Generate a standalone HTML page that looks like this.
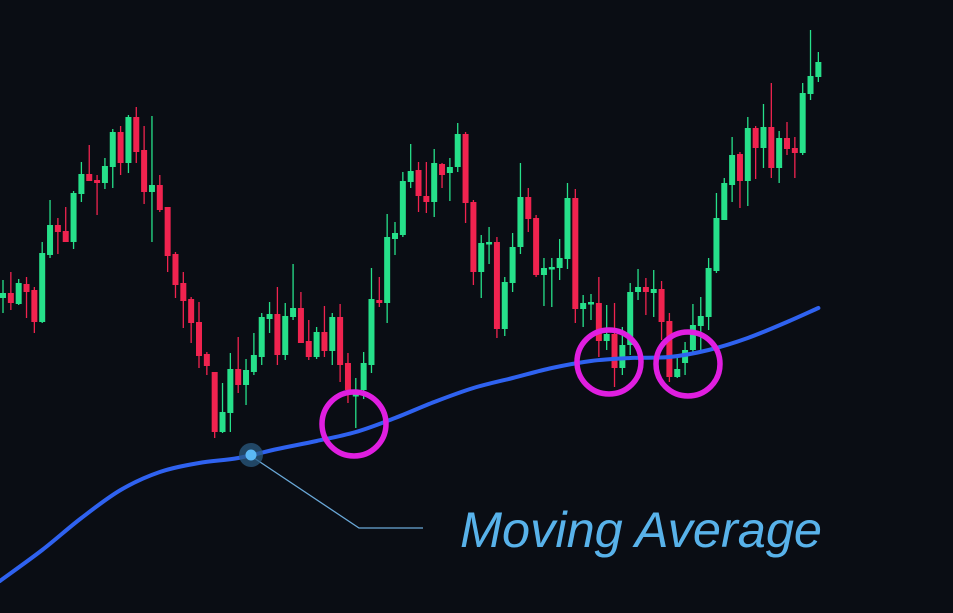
<!DOCTYPE html>
<html><head><meta charset="utf-8"><style>
html,body{margin:0;padding:0;background:#0a0d14;}
svg{display:block;}
</style></head><body>
<svg id="chart" width="953" height="613" viewBox="0 0 953 613" xmlns="http://www.w3.org/2000/svg">
<rect x="0" y="0" width="953" height="613" fill="#0a0d14"/>
<g id="candles"></g>
<path id="ma" fill="none" stroke="#2f62f0" stroke-width="4" stroke-linecap="round" stroke-linejoin="round"/>
<g fill="none" stroke="#e01ee0" stroke-width="5.5">
<circle cx="354" cy="424" r="32"/>
<circle cx="609" cy="362" r="32"/>
<circle cx="688" cy="364" r="32"/>
</g>
<polyline points="251,456 359,528 423,528" fill="none" stroke="#6aa8d8" stroke-width="1.3"/>
<circle cx="251" cy="455" r="12" fill="#2a5a80" opacity="0.75"/>
<circle cx="251" cy="455" r="5.5" fill="#5ab8f5"/>
<text x="460" y="547" font-family="Liberation Sans, sans-serif" font-style="italic" font-size="50" fill="#58b2ea" textLength="362" lengthAdjust="spacingAndGlyphs">Moving Average</text>
</svg>
<script>
const opens=[302,307,296,316,310,278,345,375,369,358,406,426,420,417,433,468,437,483,450,408,415,393,346,317,301,278,246,228,168,187,231,215,228,243,281,286,245,283,292,259,243,268,249,283,237,204,210,235,300,297,361,365,418,430,404,398,436,427,433,466,398,328,356,358,271,317,353,403,382,325,331,332,341,402,291,296,297,259,266,232,255,308,313,307,311,279,223,237,250,274,283,329,380,415,446,419,472,452,473,432,462,452,447,506,523];
const highs=[320,328,321,323,313,358,400,382,393,409,438,455,425,442,471,474,485,493,474,484,425,393,348,328,303,298,248,228,217,247,263,241,267,287,298,313,297,336,308,280,273,294,287,296,247,222,248,332,323,386,378,428,456,438,438,451,437,442,477,468,400,365,373,363,323,367,437,412,385,342,342,361,417,411,305,306,323,295,297,273,317,331,322,330,319,287,242,258,296,303,342,407,422,463,448,483,474,496,517,469,478,463,517,570,548];
const lows=[287,290,295,282,267,277,342,346,358,351,398,419,385,411,412,425,427,437,396,358,388,328,302,272,257,232,225,162,167,168,207,195,225,235,267,235,240,280,257,240,241,243,235,218,197,172,201,227,293,277,345,363,412,388,387,383,412,399,428,377,315,302,336,262,264,308,346,368,323,294,293,320,331,277,273,280,243,250,213,225,245,300,285,283,260,218,222,225,248,250,270,327,380,398,392,394,421,432,422,417,445,422,445,500,518];
const closes=[307,297,317,308,278,347,375,368,358,407,426,419,417,434,468,437,483,448,408,415,390,344,315,299,277,244,234,168,188,231,215,230,245,283,286,245,284,292,257,243,268,249,283,235,210,206,237,301,297,363,367,419,429,404,398,437,425,433,466,397,328,357,358,271,318,353,403,381,325,332,333,342,402,291,297,298,259,266,232,255,308,313,308,311,278,223,231,250,275,284,332,382,417,445,419,472,452,473,432,462,451,447,507,524,538];
const maIndex=[-0.4,5,10,15,20,25,30,35,40,45,50,55,60,65,70,75,80,85,90,95,100,104];
const maValues=[19,50,82,110,128,137,142,151,159,168,182,198,212,222,232,239,242,243,250,262,278,292];

const NS='http://www.w3.org/2000/svg';
const xScale=i=>3+i*7.84;
const yScale=p=>600-p;
const g=document.getElementById('candles');
for(let i=0;i<opens.length;i++){
  const up=closes[i]>=opens[i];
  const col=up?'#26e08a':'#f0234f';
  const x=xScale(i);
  const w=document.createElementNS(NS,'line');
  
  
  w.setAttribute('x1',x);w.setAttribute('x2',x);
  w.setAttribute('y1',yScale(highs[i]));w.setAttribute('y2',yScale(lows[i]));
  w.setAttribute('stroke',col);w.setAttribute('stroke-width','1.3');
  g.appendChild(w);
  const b=document.createElementNS(NS,'rect');
  
  
  const top=yScale(Math.max(opens[i],closes[i]));
  const h=Math.max(2.5,Math.abs(opens[i]-closes[i]));
  b.setAttribute('x',x-3);b.setAttribute('width',6);
  b.setAttribute('y',top);b.setAttribute('height',h);
  b.setAttribute('fill',col);
  g.appendChild(b);
}
const pts=maIndex.map((v,k)=>[xScale(v),yScale(maValues[k])]);
let d='M'+pts[0][0].toFixed(1)+','+pts[0][1].toFixed(1);
for(let k=0;k<pts.length-1;k++){
  const p0=pts[Math.max(0,k-1)],p1=pts[k],p2=pts[k+1],p3=pts[Math.min(pts.length-1,k+2)];
  const c1=[p1[0]+(p2[0]-p0[0])/6,p1[1]+(p2[1]-p0[1])/6];
  const c2=[p2[0]-(p3[0]-p1[0])/6,p2[1]-(p3[1]-p1[1])/6];
  d+=' C'+c1[0].toFixed(1)+','+c1[1].toFixed(1)+' '+c2[0].toFixed(1)+','+c2[1].toFixed(1)+' '+p2[0].toFixed(1)+','+p2[1].toFixed(1);
}
document.getElementById('ma').setAttribute('d',d);
</script>
</body></html>
